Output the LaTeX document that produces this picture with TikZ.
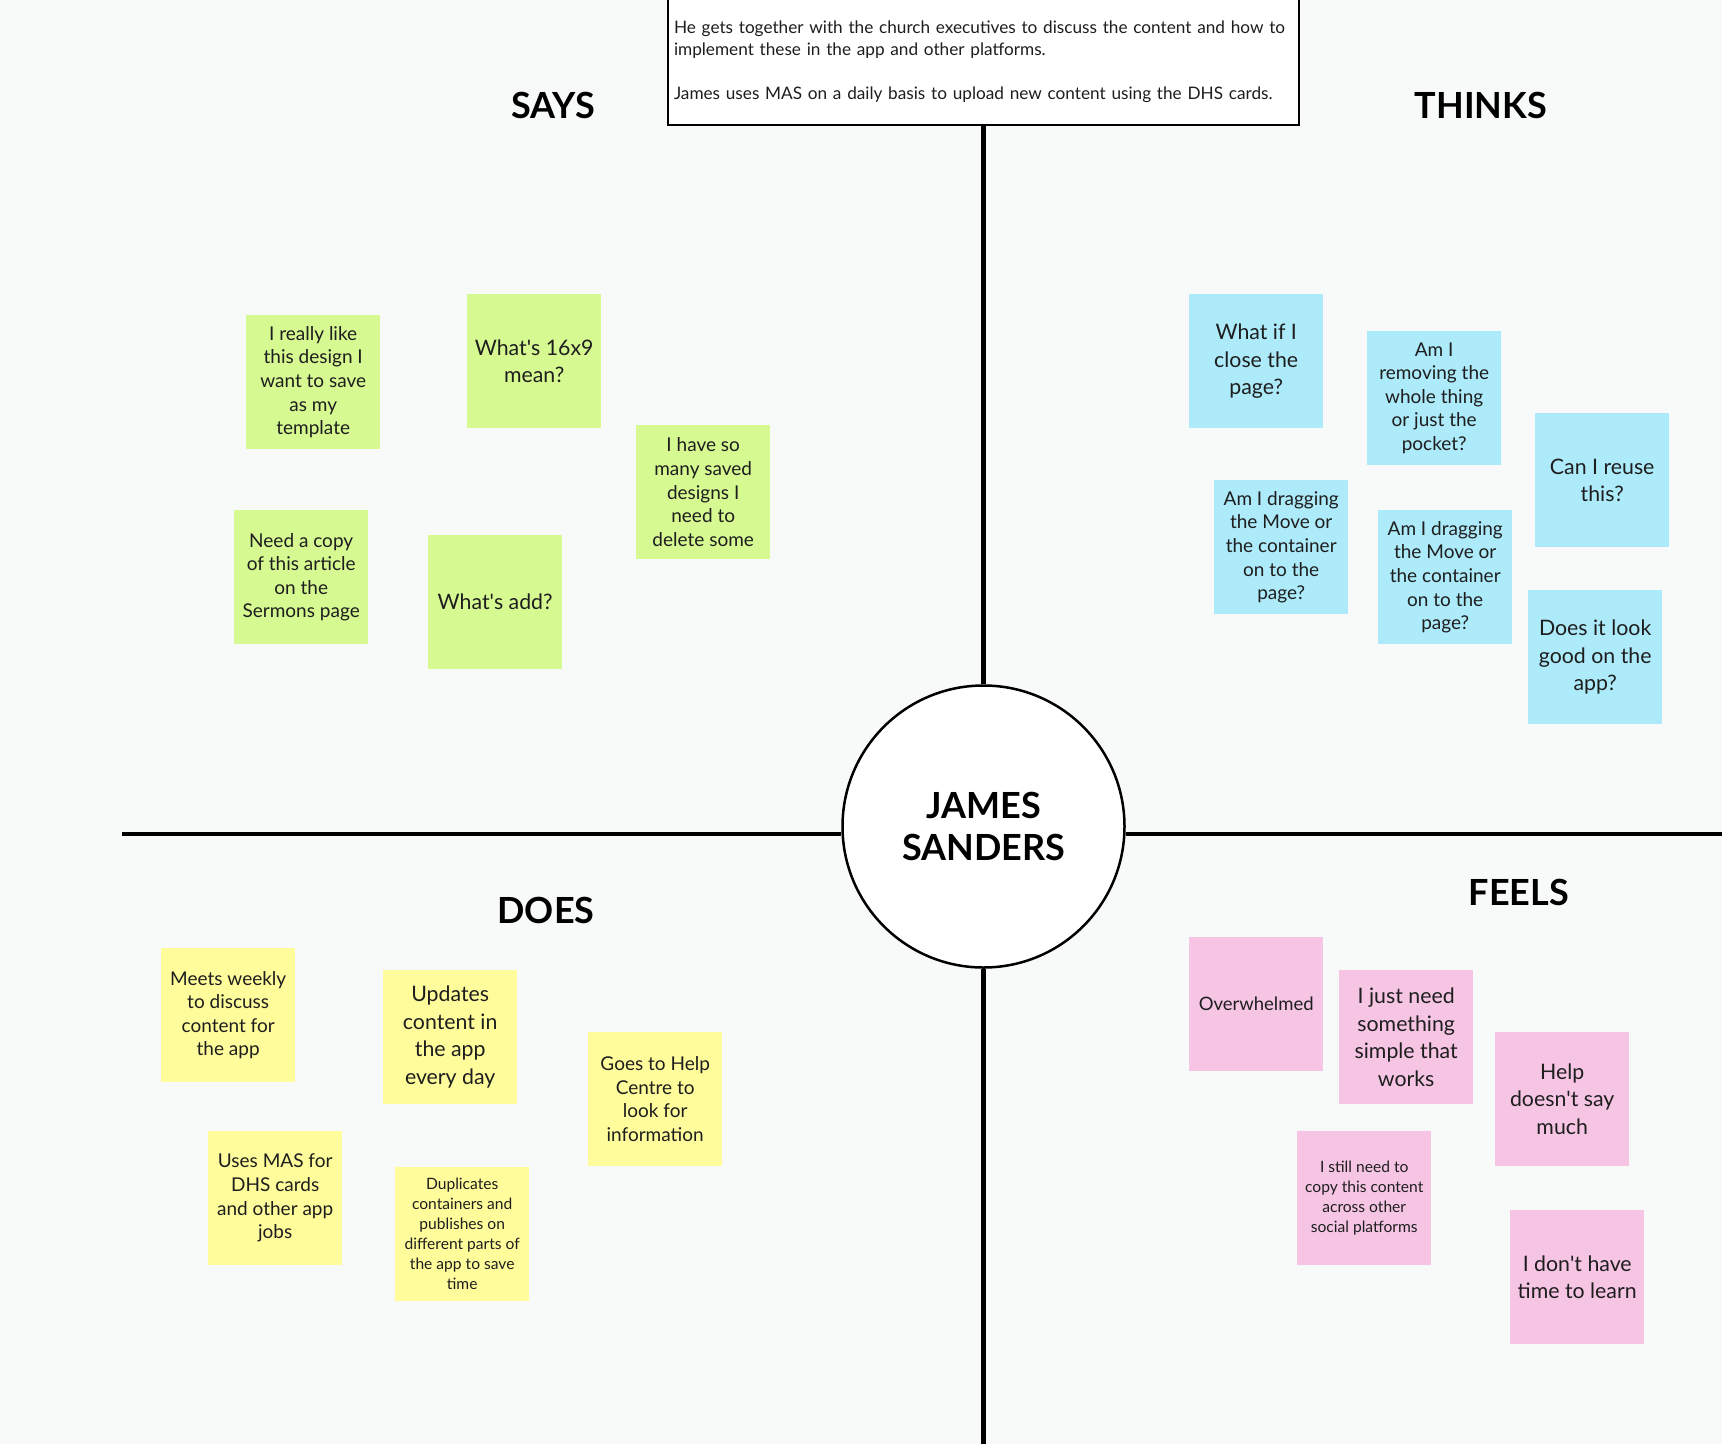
\documentclass[tikz,border=0pt]{standalone}
\usepackage{fontspec}
\setmainfont{Lato}
\usepackage{tikz}
\usetikzlibrary{calc}
\definecolor{canvas}{RGB}{248,249,249}
\definecolor{saysgreen}{RGB}{214,249,145}
\definecolor{thinksblue}{RGB}{173,234,250}
\definecolor{doesyellow}{RGB}{255,252,155}
\definecolor{feelspink}{RGB}{245,197,227}
\definecolor{ink}{RGB}{30,30,30}
\newcommand{\q}{\textquotesingle}

\begin{document}
\begin{tikzpicture}[x=1pt,y=-1pt,
  sticky/.style={anchor=north west,minimum width=134pt,minimum height=134pt,inner sep=2pt,
                 align=center,text=ink,font=\fontsize{19}{23.6}\selectfont},
  bigtext/.style={font=\fontsize{21.3}{27.5}\selectfont},
  smalltext/.style={font=\fontsize{15.6}{20}\selectfont},
  says/.style={sticky,fill=saysgreen},
  thinks/.style={sticky,fill=thinksblue},
  does/.style={sticky,fill=doesyellow},
  feels/.style={sticky,fill=feelspink},
  heading/.style={font=\fontsize{36}{40}\selectfont\bfseries,text=black},
  axis/.style={line width=4.5pt}
]
  \fill[canvas] (0,0) rectangle (1722,1444);
  \useasboundingbox (0,0) rectangle (1722,1444);

  % Persona and context
  \node[circle,draw,line width=2.5pt,fill=white,minimum size=282pt,inner sep=0,align=center,
        font=\fontsize{36}{42}\selectfont\bfseries] (persona) at (983.5,826.5) {JAMES\\SANDERS};
  \node[draw,line width=2.5pt,fill=white,anchor=south,text width=619pt,inner xsep=6pt,inner ysep=22pt,
        align=left,text=ink,font=\fontsize{17.2}{22}\selectfont] (context) at (983.5,126)
    {\rule{0pt}{20pt}He gets together with the church executives to discuss the content and how to\\
     implement these in the app and other platforms.\\[22pt]
     James uses MAS on a daily basis to upload new content using the DHS cards.};
  \coordinate (leftend) at (122,834);
  \coordinate (rightend) at (1722,834);
  \coordinate (bottomend) at (983.5,1444);
  \draw[axis] (context.south) -- (persona.north);
  \draw[axis] (persona.south) -- (bottomend);
  \draw[axis] (leftend) -- (leftend -| persona.west);
  \draw[axis] (rightend -| persona.east) -- (rightend);

  % Headings
  \node[heading] (saysh)   at (553,105)  {SAYS};
  \node[heading] (thinksh) at (1481,105) {THINKS};
  \node[heading] (doesh)   at (546,910)  {DOES};
  \node[heading] (feelsh)  at (1519,892) {FEELS};

  % Says
  \node[says]         (s1) at (246,315) {I really like\\this design I\\want to save\\as my\\template};
  \node[says,bigtext] (s2) at (467,294) {What\q s 16x9\\mean?};
  \node[says]         (s3) at (636,425) {I have so\\many saved\\designs I\\need to\\delete some};
  \node[says]         (s4) at (234,510) {Need a copy\\of this article\\on the\\Sermons page};
  \node[says,bigtext] (s5) at (428,535) {What\q s add?};

  % Thinks
  \node[thinks,bigtext] (t1) at (1189,294) {What if I\\close the\\page?};
  \node[thinks]         (t2) at (1367,331) {Am I\\removing the\\whole thing\\or just the\\pocket?};
  \node[thinks,bigtext] (t3) at (1535,413) {Can I reuse\\this?};
  \node[thinks]         (t4) at (1214,480) {Am I dragging\\the Move or\\the container\\on to the\\page?};
  \node[thinks]         (t5) at (1378,510) {Am I dragging\\the Move or\\the container\\on to the\\page?};
  \node[thinks,bigtext] (t6) at (1528,590) {Does it look\\good on the\\app?};

  % Does
  \node[does]           (d1) at (161,948)  {Meets weekly\\to discuss\\content for\\the app};
  \node[does,bigtext]   (d2) at (383,970)  {Updates\\content in\\the app\\every day};
  \node[does]           (d3) at (588,1032) {Goes to Help\\Centre to\\look for\\information};
  \node[does]           (d4) at (208,1131) {Uses MAS for\\DHS cards\\and other app\\jobs};
  \node[does,smalltext] (d5) at (395,1167) {Duplicates\\containers and\\publishes on\\different parts of\\the app to save\\time};

  % Feels
  \node[feels,font=\fontsize{18.5}{22}\selectfont] (f1) at (1189,937) {Overwhelmed};
  \node[feels,bigtext]   (f2) at (1339,970)  {I just need\\something\\simple that\\works};
  \node[feels,bigtext]   (f3) at (1495,1032) {Help\\doesn\q t say\\much};
  \node[feels,smalltext] (f4) at (1297,1131) {I still need to\\copy this content\\across other\\social platforms};
  \node[feels,bigtext]   (f5) at (1510,1210) {I don\q t have\\time to learn};
\end{tikzpicture}
\end{document}
